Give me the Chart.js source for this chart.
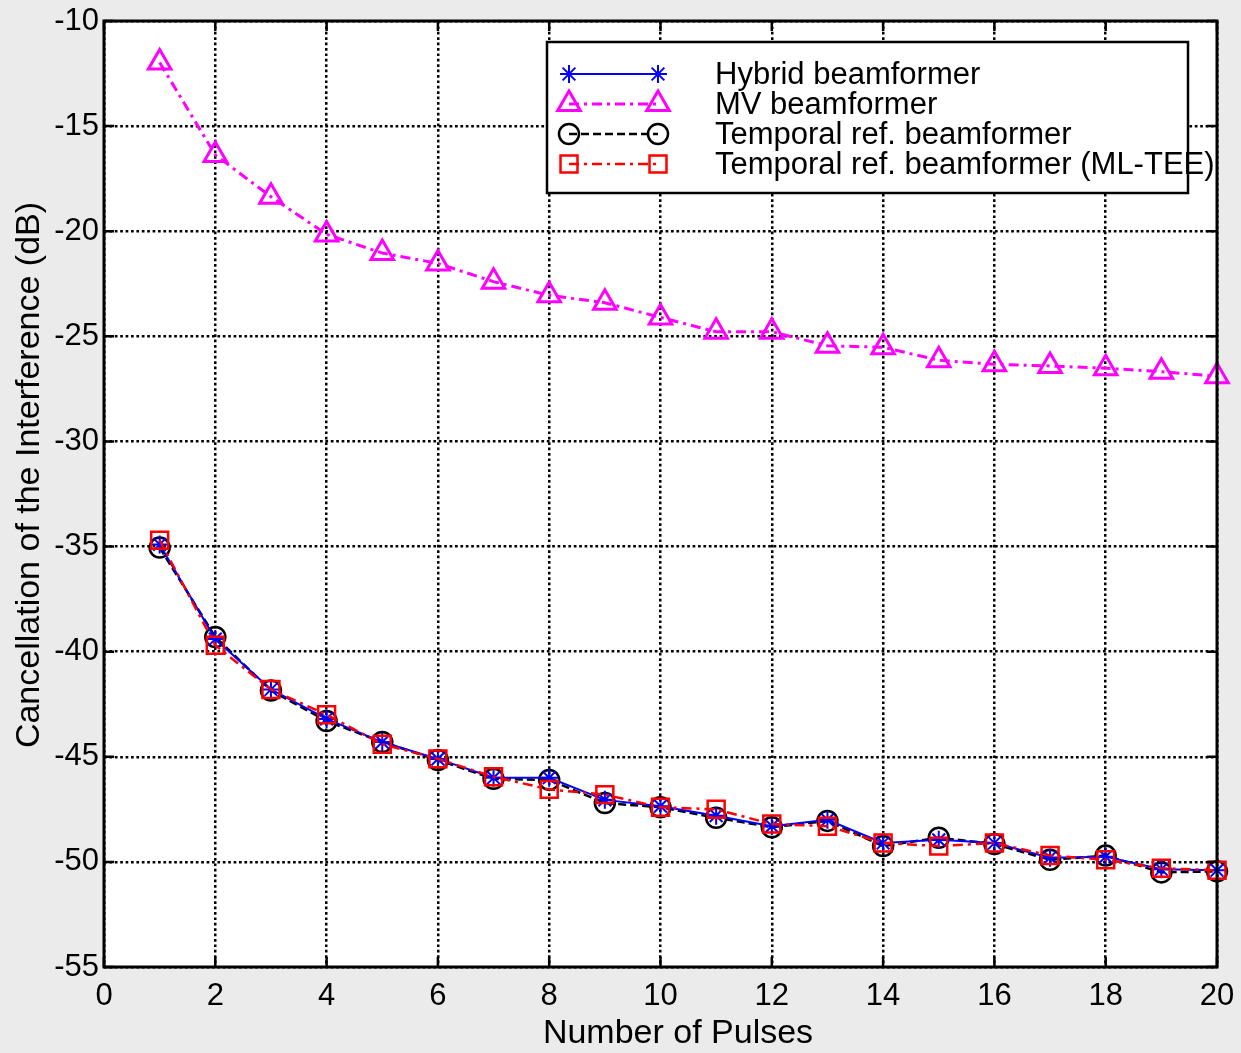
<!DOCTYPE html>
<html lang="en">
<head>
    <meta charset="UTF-8">
    <title>Cancellation of the Interference</title>
    <script src="https://cdn.jsdelivr.net/npm/chart.js"></script>
    <style>
        html, body {
            margin: 0;
            padding: 0;
            background: #ebebeb;
        }
        .wrapper {
            width: 1241px;
            height: 1053px;
            position: relative;
        }
    </style>
</head>
<body>
    <div class="wrapper">
        <canvas id="cancelChart" width="1241" height="1053"></canvas>
    </div>

    <script>
        // values (dB)
        const pulses = [1, 2, 3, 4, 5, 6, 7, 8, 9, 10, 11, 12, 13, 14, 15, 16, 17, 18, 19, 20];
        const hybrid = [-34.9, -39.4, -41.8, -43.2, -44.3, -45.1, -46.0, -46.0, -47.05, -47.35,
                        -47.8, -48.3, -48.0, -49.1, -48.95, -49.1, -49.8, -49.75, -50.35, -50.4];
        const mvBeam = [-11.97, -16.37, -18.36, -20.15, -21.04, -21.53, -22.4, -23.05, -23.4, -24.1,
                        -24.78, -24.78, -25.45, -25.52, -26.14, -26.33, -26.41, -26.52, -26.68, -26.9];
        const temporalRef = [-35.05, -39.3, -41.85, -43.3, -44.3, -45.15, -46.05, -46.1, -47.2, -47.4,
                             -47.9, -48.35, -48.05, -49.25, -48.85, -49.15, -49.9, -49.7, -50.5, -50.45];
        const temporalMlTee = [-34.7, -39.7, -41.8, -43.0, -44.4, -45.1, -45.95, -46.55, -46.8, -47.4,
                               -47.5, -48.2, -48.3, -49.1, -49.25, -49.1, -49.7, -49.9, -50.3, -50.4];
        const seriesNames = ["Hybrid beamformer", "MV beamformer", "Temporal ref. beamformer",
                             "Temporal ref. beamformer (ML-TEE)"];
        const xTicks = [0, 2, 4, 6, 8, 10, 12, 14, 16, 18, 20];
        const yTicks = [-55, -50, -45, -40, -35, -30, -25, -20, -15, -10];
        const xTitle = "Number of Pulses";
        const yTitle = "Cancellation of the Interference (dB)";

        const FONT = "'Liberation Sans', Arial, sans-serif";

        function toPoints(vals) {
            return pulses.map((p, i) => ({ x: p, y: vals[i] }));
        }

        // MATLAB-ish box, inward ticks, axis titles and legend
        const matlabAxes = {
            id: "matlabAxes",
            beforeDraw(chart) {
                const { ctx, chartArea: a } = chart;
                ctx.save();
                ctx.fillStyle = "#ffffff";
                ctx.fillRect(a.left, a.top, a.right - a.left, a.bottom - a.top);
                ctx.restore();
            },
            afterDatasetsDraw(chart) {
                const { ctx, chartArea: a, scales } = chart;
                ctx.save();
                ctx.strokeStyle = "#000";
                ctx.lineWidth = 2.5;
                ctx.beginPath();
                xTicks.forEach(v => {
                    const px = scales.x.getPixelForValue(v);
                    ctx.moveTo(px, a.bottom); ctx.lineTo(px, a.bottom - 10);
                    ctx.moveTo(px, a.top); ctx.lineTo(px, a.top + 10);
                });
                yTicks.forEach(v => {
                    const py = scales.y.getPixelForValue(v);
                    ctx.moveTo(a.left, py); ctx.lineTo(a.left + 10, py);
                    ctx.moveTo(a.right, py); ctx.lineTo(a.right - 10, py);
                });
                ctx.stroke();

                ctx.lineWidth = 3;
                ctx.strokeRect(a.left, a.top, a.right - a.left, a.bottom - a.top);

                ctx.fillStyle = "#000";
                ctx.font = "34px " + FONT;
                ctx.textAlign = "center";
                ctx.textBaseline = "middle";
                ctx.fillText(xTitle, 678, 1034);
                ctx.translate(30, 475);
                ctx.rotate(-Math.PI / 2);
                ctx.fillText(yTitle, 0, 0);
                ctx.restore();
            },
            afterDraw(chart) {
                const { ctx } = chart;
                const box = { left: 547, top: 42, right: 1188, bottom: 193 };
                const rowY = [74, 104, 134, 164];
                ctx.save();
                ctx.fillStyle = "#ffffff";
                ctx.fillRect(box.left, box.top, box.right - box.left, box.bottom - box.top);
                ctx.strokeStyle = "#000";
                ctx.lineWidth = 2.5;
                ctx.strokeRect(box.left, box.top, box.right - box.left, box.bottom - box.top);

                chart.data.datasets.forEach(ds => {
                    const y = rowY[ds.legendRow];
                    ctx.save();
                    ctx.strokeStyle = ds.borderColor;
                    ctx.lineWidth = ds.borderWidth;
                    ctx.setLineDash(ds.borderDash || []);
                    ctx.beginPath();
                    ctx.moveTo(569, y);
                    ctx.lineTo(658, y);
                    ctx.stroke();
                    ctx.setLineDash([]);
                    ctx.fillStyle = "rgba(0,0,0,0)";
                    ctx.lineWidth = ds.pointBorderWidth;
                    const opts = { pointStyle: ds.pointStyle, radius: ds.pointRadius, rotation: 0, borderWidth: ds.pointBorderWidth };
                    Chart.helpers.drawPoint(ctx, opts, 569, y);
                    Chart.helpers.drawPoint(ctx, opts, 658, y);
                    ctx.restore();
                });

                ctx.fillStyle = "#000";
                ctx.font = "31px " + FONT;
                ctx.textAlign = "left";
                ctx.textBaseline = "middle";
                seriesNames.forEach((name, i) => ctx.fillText(name, 715, rowY[i] + 1));
                ctx.restore();
            }
        };

        const ctx = document.getElementById("cancelChart").getContext("2d");
        new Chart(ctx, {
            type: "line",
            data: {
                datasets: [
                    {
                        label: seriesNames[0], legendRow: 0, order: 1, clip: false,
                        data: toPoints(hybrid),
                        borderColor: "#0000ff", borderWidth: 2,
                        pointStyle: "star", pointRadius: 9, pointBorderWidth: 2,
                        pointBorderColor: "#0000ff", pointBackgroundColor: "rgba(0,0,0,0)"
                    },
                    {
                        label: seriesNames[1], legendRow: 1, order: 3, clip: false,
                        data: toPoints(mvBeam),
                        borderColor: "#ff00ff", borderWidth: 3, borderDash: [10, 5, 3, 5],
                        pointStyle: "triangle", pointRadius: 13, pointBorderWidth: 3,
                        pointBorderColor: "#ff00ff", pointBackgroundColor: "rgba(0,0,0,0)"
                    },
                    {
                        label: seriesNames[2], legendRow: 2, order: 2, clip: false,
                        data: toPoints(temporalRef),
                        borderColor: "#000000", borderWidth: 2.5, borderDash: [8, 4],
                        pointStyle: "circle", pointRadius: 10, pointBorderWidth: 2.5,
                        pointBorderColor: "#000000", pointBackgroundColor: "rgba(0,0,0,0)"
                    },
                    {
                        label: seriesNames[3], legendRow: 3, order: 0, clip: false,
                        data: toPoints(temporalMlTee),
                        borderColor: "#ff0000", borderWidth: 2.5, borderDash: [10, 5, 3, 5],
                        pointStyle: "rect", pointRadius: 12, pointBorderWidth: 2.5,
                        pointBorderColor: "#ff0000", pointBackgroundColor: "rgba(0,0,0,0)"
                    }
                ]
            },
            options: {
                responsive: false,
                animation: false,
                devicePixelRatio: 1,
                layout: { padding: { top: 21, right: 24, left: 0, bottom: 0 } },
                plugins: {
                    legend: { display: false },
                    tooltip: { enabled: false }
                },
                elements: { line: { tension: 0 } },
                scales: {
                    x: {
                        type: "linear",
                        min: 0,
                        max: 20,
                        afterBuildTicks: s => { s.ticks = xTicks.map(v => ({ value: v })); },
                        afterFit: s => { s.height = 86; s.paddingLeft = 0; s.paddingRight = 0; },
                        ticks: {
                            font: { family: FONT, size: 31 },
                            color: "#000",
                            padding: 11,
                            maxRotation: 0
                        },
                        grid: { color: "#000", lineWidth: 2.5, drawTicks: false },
                        border: { display: false, dash: [2.7, 2.7] }
                    },
                    y: {
                        type: "linear",
                        min: -55,
                        max: -10,
                        afterBuildTicks: s => { s.ticks = yTicks.map(v => ({ value: v })); },
                        afterFit: s => { s.width = 104; s.paddingTop = 0; s.paddingBottom = 0; },
                        ticks: {
                            font: { family: FONT, size: 31 },
                            color: "#000",
                            padding: 5
                        },
                        grid: { color: "#000", lineWidth: 2.5, drawTicks: false },
                        border: { display: false, dash: [2.7, 2.7] }
                    }
                }
            },
            plugins: [matlabAxes]
        });
    </script>
</body>
</html>
